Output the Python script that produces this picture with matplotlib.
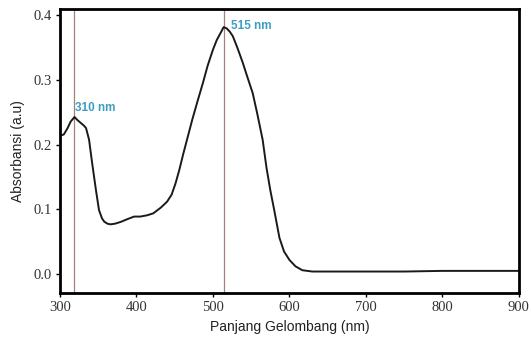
import numpy as np
import matplotlib.pyplot as plt

# spektrum UV-Vis
wavelength = [300, 305, 310, 314, 319, 323, 327, 331, 334, 338, 342, 347, 351, 355,
              358, 362, 366, 372, 380, 388, 397, 405, 414, 422, 432, 440, 446, 451,
              456, 461, 467, 473, 480, 487, 493, 500, 505, 510, 514, 518, 522, 526, 532,
              539, 545, 552, 558, 565, 570, 575, 580, 587, 593, 600, 608, 617, 630,
              650, 700, 750, 800, 850, 900]
absorbance = [0.214, 0.216, 0.226, 0.236, 0.243, 0.238, 0.234, 0.230, 0.226, 0.208, 0.172,
              0.130, 0.099, 0.086, 0.081, 0.078, 0.077, 0.078, 0.081, 0.085, 0.089, 0.089,
              0.091, 0.094, 0.103, 0.112, 0.123, 0.140, 0.161, 0.185, 0.212, 0.239, 0.268,
              0.296, 0.322, 0.347, 0.362, 0.373, 0.382, 0.380, 0.375, 0.368, 0.350, 0.327,
              0.305, 0.280, 0.248, 0.208, 0.165, 0.130, 0.100, 0.056, 0.035, 0.022, 0.012,
              0.006, 0.004, 0.004, 0.004, 0.004, 0.005, 0.005, 0.005]

peak_pos = [318, 515]
peak_labels = ['310 nm', '515 nm']
peak_label_xy = [(320, 0.247), (524, 0.374)]

xticks = [300, 400, 500, 600, 700, 800, 900]
yticks = [0.0, 0.1, 0.2, 0.3, 0.4]

fig = plt.figure(figsize=(5.31, 3.47), dpi=100)
ax = fig.add_axes([0.113, 0.156, 0.864, 0.818])

for xp in peak_pos:
    ax.axvline(xp, color='#a87f7f', lw=0.9, zorder=1)

ax.plot(wavelength, absorbance, color='#1a1a1a', lw=1.4, zorder=2)

for lab, (tx, ty) in zip(peak_labels, peak_label_xy):
    ax.text(tx, ty, lab, color='#3d9fc0', fontsize=8.5, fontweight='bold',
            family='Liberation Sans', ha='left', va='bottom')

ax.set_xlim(300, 900)
ax.set_ylim(-0.029, 0.41)
ax.set_xticks(xticks)
ax.set_yticks(yticks)
ax.set_xticklabels([str(t) for t in xticks], family='Liberation Serif', fontsize=10.5, color='#333333')
ax.set_yticklabels([f'{t:.1f}' for t in yticks], family='Liberation Serif', fontsize=10.5, color='#333333')
ax.tick_params(direction='out', length=3, width=1, pad=3)

for sp in ax.spines.values():
    sp.set_linewidth(2)

ax.set_xlabel('Panjang Gelombang (nm)', family='Liberation Sans', fontsize=10, color='#222222', labelpad=4)
ax.set_ylabel('Absorbansi (a.u)', family='Liberation Sans', fontsize=10, color='#222222', labelpad=6)

fig.savefig('out.png', dpi=100)
